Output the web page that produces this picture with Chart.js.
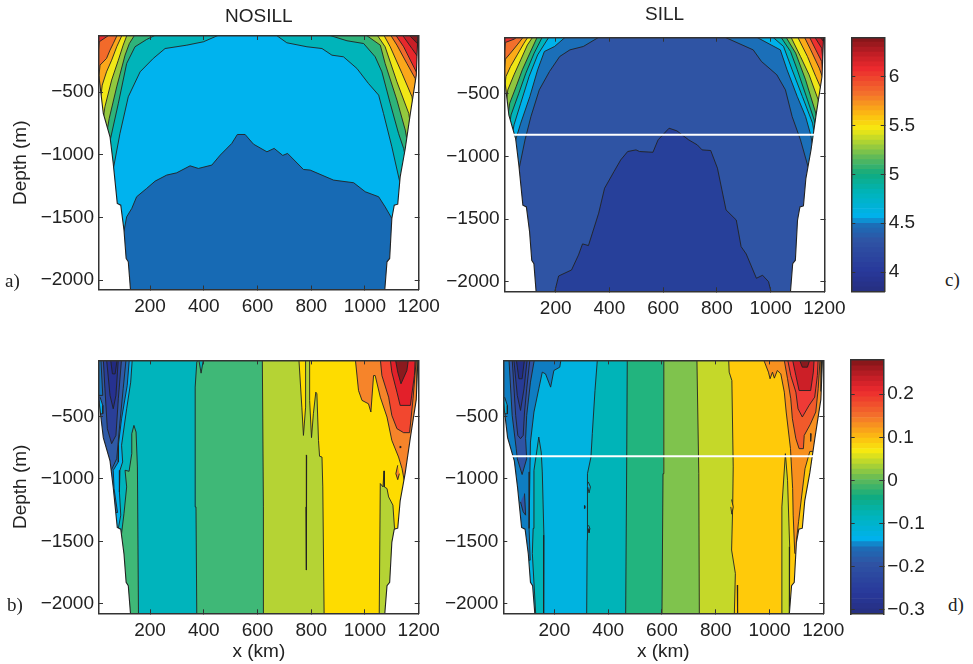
<!DOCTYPE html>
<html>
<head>
<meta charset="utf-8">
<script src="https://cdn.jsdelivr.net/npm/chart.js@4/dist/chart.umd.min.js"></script>
<style>
body { margin: 0; background: #fff; }
canvas { position: absolute; }
.tag { position: absolute; font: 19px "Liberation Serif", serif; color: #222; }
</style>
</head>
<body>
<canvas id="panelA" width="460" height="325" style="left:0;top:0"></canvas>
<canvas id="panelC" width="425" height="325" style="left:440px;top:0"></canvas>
<canvas id="panelB" width="460" height="324" style="left:0;top:340px"></canvas>
<canvas id="panelD" width="425" height="324" style="left:440px;top:340px"></canvas>
<canvas id="barC" width="90" height="315" style="left:845px;top:7px"></canvas>
<canvas id="barD" width="90" height="315" style="left:845px;top:330px"></canvas>
<span class="tag" style="left:5px;top:270px">a)</span>
<span class="tag" style="left:7px;top:594px">b)</span>
<span class="tag" style="left:945px;top:269px">c)</span>
<span class="tag" style="left:948px;top:594px">d)</span>
<script>
const xTicks = [200, 400, 600, 800, 1000, 1200];
const yTicks = [-2000, -1500, -1000, -500];
const barTicksC = [4, 4.5, 5, 5.5, 6];
const barTicksD = [-0.3, -0.2, -0.1, 0, 0.1, 0.2];

// colorbar steps
const levelsC = [3.8,3.85,3.9,3.95,4,4.05,4.1,4.15,4.2,4.25,4.3,4.35,4.4,4.45,4.5,4.55,4.6,4.65,4.7,4.75,4.8,4.85,4.9,4.95,5,5.05,5.1,5.15,5.2,5.25,5.3,5.35,5.4,5.45,5.5,5.55,5.6,5.65,5.7,5.75,5.8,5.85,5.9,5.95,6,6.05,6.1,6.15,6.2,6.25,6.3,6.35,6.4];
const levelsD = [-0.31,-0.298,-0.286,-0.274,-0.262,-0.25,-0.238,-0.226,-0.214,-0.202,-0.19,-0.178,-0.166,-0.154,-0.142,-0.13,-0.118,-0.106,-0.094,-0.082,-0.07,-0.058,-0.046,-0.034,-0.022,-0.01,0.002,0.014,0.026,0.038,0.05,0.062,0.074,0.086,0.098,0.11,0.122,0.134,0.146,0.158,0.17,0.182,0.194,0.206,0.218,0.23,0.242,0.254,0.266,0.28];

// far points, outside the basin, used to close the contours round the bottom
const FL = [-100, -2600];
const FR = [1300, -2600];
const TL = [-100, -40];
const TR = [1300, -40];

// basin walls (x km, depth m)
const wallLeft = [[-100,-378],[10,-378],[26,-670],[51,-856],[63,-1069],[78,-1388],[91,-1402],[103,-1601],[111,-1827],[119,-1854],[128,-2100],[-100,-2100]];
const wallRight = [[1197,-40],[1191,-364],[1169,-670],[1150,-950],[1131,-1176],[1122,-1394],[1109,-1402],[1100,-1508],[1092,-1827],[1082,-1854],[1073,-2100],[1300,-2100],TR];

const everything = [TL, TR, FR, FL];

// panel a contours
const aCrimsonDark = [TL,FL,FR,[1201,-125],[1162,-40]];
const aRedCrimson = [TL,FL,FR,[1201,-231],[1175,-152],[1138,-40]];
const aOrangeRed = [[51,-40],[11,-98],FL,FR,[1194,-351],[1169,-245],[1144,-138],[1113,-40]];
const aLightOrange = [[79,-40],[63,-112],[51,-165],[38,-231],[14,-284],FL,FR,[1187,-391],[1156,-271],[1119,-125],[1094,-40]];
const aYellow = [[97,-40],[76,-138],[57,-245],[38,-338],[22,-444],FL,FR,[1175,-537],[1138,-351],[1094,-138],[1069,-40]];
const aOlive = [[115,-40],[100,-125],[82,-245],[57,-404],[32,-617],FL,FR,[1163,-670],[1119,-418],[1075,-138],[1044,-40]];
const aGreen = [[144,-40],[123,-112],[107,-205],[76,-457],[48,-710],FL,FR,[1150,-803],[1119,-564],[1075,-271],[1057,-125],[1001,-40]];
const aTeal = [[225,-40],[187,-80],[144,-138],[113,-271],[82,-590],[53,-870],FL,FR,[1144,-950],[1125,-830],[1094,-590],[1063,-338],[1038,-218],[995,-112],[933,-90],[858,-40]];
const aCyan = [[461,-40],[399,-98],[337,-125],[256,-152],[212,-231],[163,-338],[119,-537],[88,-830],[66,-1082],FL,FR,[1128,-1202],[1100,-936],[1069,-670],[1051,-524],[1013,-431],[970,-311],[920,-218],[877,-205],[840,-152],[784,-138],[709,-106],[666,-40]];
const aBlue = [FL,[103,-1607],[113,-1495],[132,-1428],[150,-1335],[187,-1269],[219,-1210],[262,-1162],[299,-1144],[349,-1088],[380,-1109],[430,-1082],[461,-1003],[504,-910],[525,-838],[554,-838],[585,-915],[635,-976],[662,-949],[694,-1005],[712,-989],[771,-1117],[796,-1122],[883,-1202],[958,-1223],[1001,-1295],[1051,-1335],[1075,-1415],[1100,-1508],FR];

// panel c contours
const cCrimson = [TL,FL,FR,[1200,-90],[1181,-40]];
const cRed = [TL,FL,FR,[1190,-136],[1162,-40]];
const cOrangeRed = [[61,-40],[45,-64],[13,-90],FL,FR,[1190,-242],[1168,-149],[1143,-40]];
const cOrange = [[82,-40],[57,-109],[32,-175],[13,-223],FL,FR,[1192,-362],[1181,-295],[1149,-149],[1124,-40]];
const cYellow = [[99,-40],[82,-96],[57,-189],[32,-282],[15,-362],FL,FR,[1187,-455],[1168,-362],[1137,-202],[1099,-40]];
const cOlive = [[117,-40],[95,-109],[70,-229],[45,-348],[22,-468],FL,FR,[1177,-548],[1143,-348],[1111,-202],[1074,-40]];
const cGreen = [[133,-40],[104,-175],[76,-308],[53,-442],[29,-575],FL,FR,[1168,-654],[1130,-388],[1093,-175],[1055,-40]];
const cTeal = [[152,-40],[120,-175],[89,-335],[63,-495],[34,-668],FL,FR,[1162,-708],[1137,-548],[1099,-308],[1074,-162],[1036,-40]];
const cCyan = [[177,-40],[133,-189],[101,-362],[70,-575],[45,-747],FL,FR,[1156,-734],[1118,-521],[1080,-308],[1048,-122],[1004,-40]];
const cBlue = [[240,-40],[196,-122],[158,-162],[133,-308],[104,-521],[70,-734],[51,-867],FL,FR,[1149,-827],[1130,-681],[1099,-521],[1061,-308],[1036,-149],[941,-40]];
const cMain = [[367,-40],[303,-122],[253,-149],[215,-202],[177,-322],[139,-468],[108,-681],[86,-867],[66,-1075],FL,FR,[1139,-1080],[1111,-867],[1080,-681],[1055,-468],[1023,-348],[966,-242],[935,-149],[821,-40]];
const cDeep = [[194,-2100],[211,-1953],[259,-1905],[285,-1785],[300,-1697],[322,-1710],[360,-1452],[382,-1253],[417,-1120],[442,-1027],[468,-960],[499,-947],[512,-960],[562,-966],[581,-867],[622,-774],[651,-795],[695,-867],[727,-907],[745,-947],[777,-952],[802,-1093],[834,-1426],[872,-1506],[890,-1718],[909,-1777],[947,-1971],[970,-1947],[992,-1998],[1004,-2100]];

// panel b contours
const bGreenRight = [[374,-2100],[371,-1224],[368,-266],[374,-66],[381,-40],[390,-154],[399,-40],TR,FR];
const bOliveMid = [[622,-2100],[622,-1224],[618,-40],TR,FR];
const bYellowMid = [[848,-2100],[843,-1064],[840,-825],[831,-819],[827,-692],[821,-319],[817,-306],[808,-479],[801,-670],[794,-372],[794,-40],TR,FR];
const bYellowSpire = [[754,-40],[765,-426],[771,-652],[779,-426],[779,-40]];
const bSliver = [[780,-811],[783,-811],[783,-1224],[781,-1729],[780,-1224]];
const bOliveRight = [[1053,-2100],[1057,-1037],[1067,-1064],[1071,-936],[1072,-1064],[1082,-1077],[1088,-1144],[1104,-1210],[1110,-1396],[1119,-1410],FR];
const bOrange = [[964,-40],[976,-293],[989,-372],[1013,-399],[1022,-465],[1032,-173],[1038,-173],[1057,-346],[1082,-505],[1100,-692],[1125,-825],[1138,-918],[1146,-1011],[1159,-958],[1300,-958],TR];
const bLens = [[1122,-891],[1115,-958],[1122,-1006],[1128,-958]];
const bDot = [[1129,-740],[1133,-740],[1133,-750],[1129,-750]];
const bRedOrange = [[1057,-40],[1063,-173],[1088,-346],[1100,-492],[1119,-598],[1144,-630],[1166,-630],[1179,-359],[1191,-40]];
const bRed = [[1094,-40],[1100,-146],[1119,-306],[1131,-412],[1169,-412],[1184,-173],[1187,-40]];
const bDark = [[1113,-40],[1122,-146],[1134,-239],[1156,-133],[1162,-40]];
const bEdge = [[1194,-40],[1192,-330],[1205,-330],[1205,-40]];
const bCyan = [[134,-40],[128,-226],[113,-439],[94,-731],[98,-864],[88,-931],[86,-1104],[91,-1290],[82,-1396],[-100,-1396],TL];
const bBlue = [[123,-40],[115,-253],[94,-519],[82,-731],[82,-864],[63,-931],[66,-1077],[79,-1269],[-100,-1269],TL];
const bBlue2 = [[111,-40],[100,-279],[88,-545],[76,-838],[53,-944],[-100,-944],TL];
const bLeftEdge = [[17,-40],[24,-332],[-100,-332],TL];
const bCyanEdge = [[14,-346],[24,-412],[24,-479],[11,-479]];
const bNavy = [[94,-40],[82,-359],[73,-652],[57,-718],[41,-598],[32,-279],[26,-40]];
const bDeep = [[82,-40],[73,-332],[63,-439],[51,-332],[38,-40]];
const bDeepest = [[53,-40],[60,-160],[70,-160],[78,-40]];
const bSpire = [[91,-1490],[103,-1277],[113,-1064],[107,-931],[122,-939],[132,-798],[132,-638],[140,-572],[148,-625],[153,-904],[157,-2100],[-100,-2200],[-100,-1490]];

// panel d contours
const dTeal = [[320,-2100],[322,-1490],[322,-1091],[324,-958],[336,-825],[341,-638],[351,-293],[360,-40],TR,FR];
const dGreen = [[465,-2100],[469,-825],[471,-40],TR,FR];
const dLightGreen = [[600,-2100],[604,-958],[607,-40],TR,FR];
const dOlive = [[739,-2100],[737,-958],[730,-40],TR,FR];
const dYellow = [[869,-2100],[873,-1756],[859,-1569],[863,-1224],[865,-904],[860,-213],[850,-146],[848,-40],TR,FR];
const dLens1 = [[326,-1024],[334,-1064],[329,-1112],[324,-1064]];
const dLens2 = [[327,-1370],[332,-1397],[329,-1431],[325,-1397]];
const dDot = [[310,-1215],[313,-1215],[313,-1235],[310,-1235]];
const dLens3 = [[859,-1165],[865,-1224],[860,-1282],[856,-1224]];
const dDash = [[880,-1849],[882,-1849],[882,-2100],[880,-2100]];
const dOliveRight = [[1043,-2100],[1046,-1224],[1059,-798],[1067,-1011],[1075,-1543],[1074,-2100]];
const dOrange = [[977,-40],[996,-146],[1002,-199],[1011,-146],[1018,-194],[1029,-133],[1042,-160],[1055,-306],[1062,-465],[1078,-758],[1086,-1077],[1088,-1290],[1094,-1596],[1125,-1596],[1300,-1596],TR];
const dYellowRight = [[1100,-1500],[1108,-1343],[1132,-918],[1150,-780],[1300,-780],[1300,-1500]];
const dRedOrange = [[1054,-40],[1067,-199],[1079,-359],[1085,-519],[1098,-678],[1110,-758],[1126,-758],[1129,-652],[1151,-566],[1172,-465],[1181,-279],[1188,-40]];
const dDash2 = [[1151,-638],[1155,-638],[1154,-700],[1151,-700]];
const dRed = [[1067,-40],[1079,-173],[1098,-306],[1106,-439],[1122,-505],[1147,-412],[1168,-346],[1178,-173],[1181,-40]];
const dCrimson = [[1085,-40],[1098,-173],[1110,-293],[1153,-293],[1163,-146],[1166,-40]];
const dDark = [[1110,-40],[1122,-106],[1141,-106],[1151,-40]];
const dEdge = [[1194,-40],[1192,-300],[1205,-300],[1205,-40]];
const dBlue = [[225,-40],[220,-106],[198,-133],[186,-266],[167,-160],[155,-146],[142,-279],[124,-465],[111,-705],[109,-944],[106,-1396],[110,-1650],[-100,-1650],TL];
const dSpire = [[131,-2100],[118,-1596],[121,-1396],[124,-931],[134,-785],[142,-665],[151,-785],[155,-944],[161,-1450],[160,-2100]];
const dCyanEdge = [[15,-346],[25,-412],[25,-479],[12,-479]];
const dNavy1 = [[126,-40],[111,-226],[97,-492],[93,-678],[97,-838],[80,-965],[62,-838],[58,-758],[43,-492],[31,-40]];
const dNavy2 = [[109,-40],[97,-279],[89,-465],[84,-652],[74,-678],[64,-652],[56,-492],[43,-40]];
const dNavy3 = [[99,-40],[87,-279],[74,-452],[62,-332],[49,-40]];
const dNavy4 = [[89,-40],[80,-199],[68,-199],[58,-40]];
const dSpike = [[89,-1117],[93,-1290],[84,-1263],[74,-1184]];

const sillDepthC = -827;
const sillDepthD = -819;

const frame = "#333";
const tickFont = { family: "'Liberation Sans', Arial, sans-serif", size: 19 };

// painted back to front, contour then colour
const layersA = [
  [everything, "#87181c"], [aCrimsonDark, "#c81f27"], [aRedCrimson, "#e8282c"], [aOrangeRed, "#f26a2a"],
  [aLightOrange, "#fba71b"], [aYellow, "#f1e717"], [aOlive, "#93c83e"], [aGreen, "#2eb37a"],
  [aTeal, "#00b4ba"], [aCyan, "#00b3ee"], [aBlue, "#176ab4"]
];
const layersC = [
  [everything, "#8a181c"], [cCrimson, "#c81f27"], [cRed, "#ee3030"], [cOrangeRed, "#f36f2c"],
  [cOrange, "#fbab18"], [cYellow, "#f0e616"], [cOlive, "#8ec63f"], [cGreen, "#22b27c"],
  [cTeal, "#00b4bc"], [cCyan, "#00b1e9"], [cBlue, "#1b6fb8"], [cMain, "#2f54a4"], [cDeep, "#27409a"]
];
const layersB = [
  [everything, "#00b4bc"], [bGreenRight, "#3fb877"], [bOliveMid, "#b5d334"], [bYellowMid, "#fedc00"],
  [bYellowSpire, "#fedc00"], [bSliver, "#fedc00"], [bOliveRight, "#b5d334"], [bOrange, "#f6842a"],
  [bLens, "#f6842a"], [bDot, "#222"], [bRedOrange, "#f2472f"], [bEdge, "#fedc00"], [bRed, "#e3202a"], [bDark, "#8a1a1e"],
  [bSpire, "#3fb877"], [bCyan, "#00b1ec"], [bBlue, "#1874bb"], [bBlue2, "#2f5aa6"], [bLeftEdge, "#1874bb"],
  [bCyanEdge, "#00b1ec"], [bNavy, "#2a3f98"], [bDeep, "#263190"], [bDeepest, "#222a80"]
];
const layersD = [
  [everything, "#00b3e0"], [dTeal, "#00b4b8"], [dGreen, "#22b47e"], [dLightGreen, "#7fc34d"], [dOlive, "#c5d829"],
  [dYellow, "#ffca0a"], [dLens1, "#00b3e0"], [dLens2, "#00b3e0"], [dDot, "#222"], [dLens3, "#ffca0a"], [dDash, "#c5d829"],
  [dOliveRight, "#c5d829"], [dOrange, "#f8901f"], [dYellowRight, "#ffca0a"], [dRedOrange, "#f15a2b"], [dDash2, "#222"],
  [dEdge, "#ffca0a"], [dRed, "#ef3a36"], [dCrimson, "#cc1f27"], [dDark, "#8a1a1e"],
  [dSpire, "#00b4b8"], [dBlue, "#0f7dc2"], [dCyanEdge, "#00b3e0"], [dNavy1, "#2f54a4"], [dNavy2, "#2b47a0"],
  [dNavy3, "#273b96"], [dNavy4, "#232f86"], [dSpike, "#2f54a4"]
];

const minusSign = v => String(v).replace("-", "\u2212");
const useTicks = list => scale => { scale.ticks = list.map(v => ({ value: v })); };

// fills each contour polygon just before its outline
const polygonFill = {
  id: "polygonFill",
  beforeDatasetDraw(chart, args) {
    const ds = chart.data.datasets[args.index];
    if (!ds.polygon) return;
    const { ctx, chartArea: a, scales } = chart;
    ctx.save();
    ctx.beginPath();
    ctx.rect(a.left, a.top, a.width, a.height);
    ctx.clip();
    ctx.beginPath();
    ds.data.forEach((p, i) => {
      const px = scales.x.getPixelForValue(p.x), py = scales.y.getPixelForValue(p.y);
      if (i === 0) ctx.moveTo(px, py); else ctx.lineTo(px, py);
    });
    ctx.closePath();
    ctx.fillStyle = ds.backgroundColor;
    ctx.fill();
    ctx.restore();
  }
};

function toDataset(points, color, strokeWidth) {
  return {
    polygon: true,
    data: points.map(p => ({ x: p[0], y: p[1] })),
    showLine: true,
    backgroundColor: color,
    borderColor: "#222",
    borderWidth: strokeWidth,
    pointRadius: 0
  };
}

function frameAxis(position, min, max, list, size) {
  const sideways = position === "left" || position === "right";
  return {
    type: "linear",
    position: position,
    min: min,
    max: max,
    afterBuildTicks: useTicks(list),
    afterFit: s => { if (sideways) s.width = size; else s.height = size; },
    grid: { drawOnChartArea: false, tickLength: -4, color: frame, z: 1 },
    border: { color: frame, width: 1.5, z: 1 },
    ticks: { display: false }
  };
}

function drawPanel(id, layers, box) {
  const datasets = layers.map((l, i) => toDataset(l[0], l[1], i === 0 ? 0 : 0.9));
  datasets.push(toDataset(wallLeft, "#fff", 1.1), toDataset(wallRight, "#fff", 1.1));
  if (box.sill !== undefined) {
    datasets.push({ data: [{ x: 25, y: box.sill }, { x: 1172, y: box.sill }], showLine: true, borderColor: "#fff", borderWidth: 2, pointRadius: 0 });
  }
  datasets.reverse();

  const x = frameAxis("bottom", 10, 1200, xTicks, box.bottom);
  x.ticks = { display: true, padding: 10, font: tickFont, color: "#222", maxRotation: 0, autoSkip: false, callback: minusSign };
  if (box.xTitle) x.title = { display: true, text: box.xTitle, font: tickFont, color: "#222", padding: { top: 0, bottom: 1 } };

  const y = frameAxis("left", -2075, -52, yTicks, box.left);
  y.ticks = { display: true, padding: 9, font: tickFont, color: "#222", autoSkip: false, callback: minusSign };
  if (box.yTitle) y.title = { display: true, text: box.yTitle, font: tickFont, color: "#222", padding: { top: 9, bottom: 0 } };

  const xTop = frameAxis("top", 10, 1200, xTicks, box.top);
  if (box.title) xTop.title = { display: true, text: box.title, font: tickFont, color: "#222", padding: { top: box.titlePad, bottom: 0 } };

  new Chart(document.getElementById(id), {
    type: "scatter",
    data: { datasets: datasets },
    options: {
      responsive: false,
      animation: false,
      plugins: { legend: { display: false }, tooltip: { enabled: false } },
      layout: { padding: 0 },
      scales: { x: x, y: y, xTop: xTop, yRight: frameAxis("right", -2075, -52, yTicks, box.right) }
    },
    plugins: [polygonFill]
  });
}

// colour ramp of the colorbars
const rampStops = [[0,"#262f80"],[0.08,"#28389a"],[0.2,"#2f54a4"],[0.263,"#1b6fb8"],[0.295,"#00b1ec"],[0.39,"#00b4b8"],[0.46,"#10ab80"],[0.525,"#5cb85a"],[0.64,"#f6ea10"],[0.69,"#fcc010"],[0.78,"#f36f2c"],[0.875,"#ec2a2e"],[0.93,"#c41e26"],[1,"#7e1518"]];

function rampColor(f) {
  let i = 0;
  while (i < rampStops.length - 2 && f > rampStops[i + 1][0]) i++;
  const [f0, c0] = rampStops[i], [f1, c1] = rampStops[i + 1];
  const t = (f - f0) / (f1 - f0);
  const part = (c, n) => parseInt(c.substr(1 + n * 2, 2), 16);
  return "rgb(" + [0, 1, 2].map(n => Math.round(part(c0, n) + (part(c1, n) - part(c0, n)) * t)).join(",") + ")";
}

function drawColorbar(id, levels, list, box) {
  const lo = levels[0], hi = levels[levels.length - 1];
  const datasets = [];
  for (let i = 0; i < levels.length - 1; i++) {
    datasets.push({
      data: [[levels[i], levels[i + 1]]],
      backgroundColor: rampColor(((levels[i] + levels[i + 1]) / 2 - lo) / (hi - lo)),
      borderWidth: 0,
      barPercentage: 1,
      categoryPercentage: 1,
      grouped: false
    });
  }
  const y = frameAxis("right", lo, hi, list, box.right);
  y.ticks = { display: true, padding: 8, font: tickFont, color: "#222", autoSkip: false, callback: minusSign };
  new Chart(document.getElementById(id), {
    type: "bar",
    data: { labels: ["level"], datasets: datasets },
    options: {
      responsive: false,
      animation: false,
      plugins: { legend: { display: false }, tooltip: { enabled: false } },
      layout: { padding: 0 },
      scales: {
        x: {
          afterFit: s => { s.height = box.bottom; },
          grid: { display: false },
          border: { color: frame, width: 1.5, z: 1 },
          ticks: { display: false }
        },
        y: y,
        yLeft: frameAxis("left", lo, hi, list, box.left),
        xTop: {
          position: "top",
          afterFit: s => { s.height = box.top; },
          grid: { display: false },
          border: { color: frame, width: 1.5, z: 1 },
          ticks: { display: false }
        }
      }
    }
  });
}

drawPanel("panelA", layersA, { left: 99, right: 41.3, top: 36, bottom: 35.5, title: "NOSILL", titlePad: 5, yTitle: "Depth (m)" });
drawPanel("panelC", layersC, { left: 64.6, right: 40.6, top: 37.7, bottom: 33.7, title: "SILL", titlePad: 3.5, sill: sillDepthC });
drawPanel("panelB", layersB, { left: 99, right: 41.3, top: 20, bottom: 50.7, xTitle: "x (km)", yTitle: "Depth (m)" });
drawPanel("panelD", layersD, { left: 63.3, right: 41.7, top: 20, bottom: 50.7, xTitle: "x (km)", sill: sillDepthD });
drawColorbar("barC", levelsC, barTicksC, { left: 6.3, right: 50.3, top: 30.3, bottom: 30.3 });
drawColorbar("barD", levelsD, barTicksD, { left: 5.7, right: 51.7, top: 29.7, bottom: 31 });
</script>
</body>
</html>
